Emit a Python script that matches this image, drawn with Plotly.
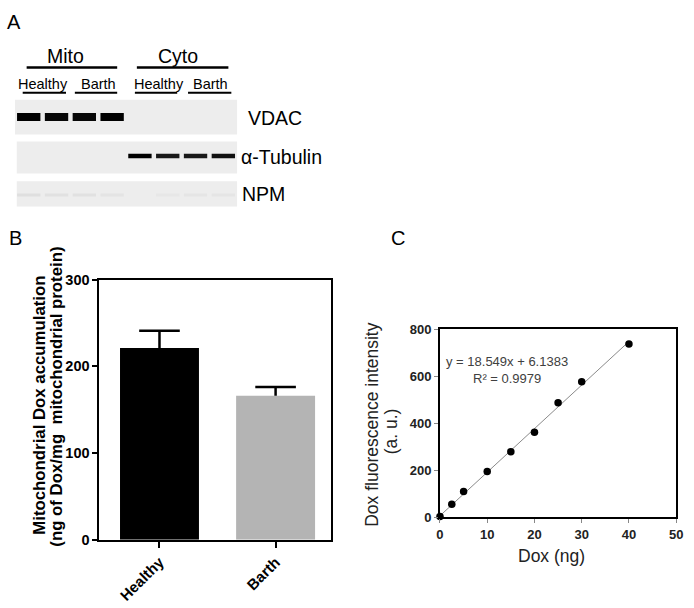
import plotly.graph_objects as go

W, H = 694, 608
FONT = "Liberation Sans, Arial, sans-serif"

# ---------------- data ----------------
# Panel A (western blot) : relative band signal per lane
lanes = [1, 2, 3, 4, 5, 6, 7, 8]
blot_rows = ["VDAC", "α-Tubulin", "NPM"]
vdac_signal = [1.0, 0.97, 0.97, 1.0, 0, 0, 0, 0]
tubulin_signal = [0, 0, 0, 0, 1.0, 0.9, 0.9, 0.93]
npm_signal = [0.06, 0.05, 0.05, 0.04, 0, 0.025, 0.035, 0.035]
fractions = ["Mito", "Cyto"]
conditions = ["Healthy", "Barth"]

# Panel B
groups = ["Healthy", "Barth"]
dox_accum = [221, 166]
dox_err = [20, 10]

# Panel C
dox_ng = [0, 2.5, 5, 10, 15, 20, 25, 30, 40]
fluor = [3, 55, 110, 195, 279, 362, 487, 577, 737]
slope, intercept = 18.549, 6.1383
r_squared = 0.9979
fit_x = [0, 40]


def px(x):
    return x / W


def py(y):
    return 1 - y / H


fig = go.Figure()

# ---------------- Panel B ----------------
fig.add_trace(go.Bar(
    x=groups, y=dox_accum, width=0.68,
    marker=dict(color=["#000000", "#b4b4b4"], line=dict(width=0)),
    error_y=dict(type="data", symmetric=False, array=dox_err,
                 arrayminus=[0, 0], color="#000000", thickness=2.5, width=0),
    xaxis="x", yaxis="y", showlegend=False, hoverinfo="skip"))
# error-bar caps (top only)
fig.add_trace(go.Scatter(
    x=groups, y=[v + e for v, e in zip(dox_accum, dox_err)], mode="markers",
    marker=dict(symbol="line-ew", size=29, line=dict(color="#000000", width=2.5)),
    xaxis="x", yaxis="y", showlegend=False, hoverinfo="skip", cliponaxis=False))

# ---------------- Panel C ----------------
fig.add_trace(go.Scatter(
    x=fit_x, y=[slope * v + intercept for v in fit_x], mode="lines",
    line=dict(color="#8a8a8a", width=1), xaxis="x2", yaxis="y2",
    showlegend=False, hoverinfo="skip"))
fig.add_trace(go.Scatter(
    x=dox_ng, y=fluor, mode="markers",
    marker=dict(color="#000000", size=7.5), xaxis="x2", yaxis="y2",
    showlegend=False, cliponaxis=False))

# ---------------- Panel A (blot) ----------------
row_signals = [vdac_signal, tubulin_signal, npm_signal]
row_thickness = [8, 4.5, 3]
box_x0 = [0.5, 0.57, 0.57]
box_y = [(-0.45, 0.45), (0.625, 1.45), (1.65, 2.3)]
shapes = []
for r in range(3):
    shapes.append(dict(type="rect", xref="x3", yref="y3", x0=box_x0[r], x1=8.5,
                       y0=box_y[r][0], y1=box_y[r][1], fillcolor="#ededed",
                       line=dict(width=0), layer="below"))
for r, sig in enumerate(row_signals):
    for lane, s in zip(lanes, sig):
        if s <= 0:
            continue
        g = int(round(237 * (1 - s)))
        fig.add_trace(go.Scatter(
            x=[lane - 0.42, lane + 0.42], y=[r, r], mode="lines",
            line=dict(color=f"rgb({g},{g},{g})", width=row_thickness[r]),
            xaxis="x3", yaxis="y3", showlegend=False, hoverinfo="skip"))

# header lines of panel A
header_lines = [(23, 115, 61), (135, 228, 61),
                (19, 63, 87), (72, 115, 87), (133, 176, 87), (187, 231, 87)]
for x0, x1, yy in header_lines:
    shapes.append(dict(type="line", xref="paper", yref="paper",
                       x0=px(x0), x1=px(x1), y0=py(yy), y1=py(yy),
                       line=dict(color="#000000", width=2.5 if yy < 70 else 2)))

annotations = []


def ann(text, x, y, size, xanchor="center", yanchor="middle", bold=False,
        angle=0, color="#000000"):
    annotations.append(dict(
        text=f"<b>{text}</b>" if bold else text, x=px(x), y=py(y),
        xref="paper", yref="paper", showarrow=False, xanchor=xanchor,
        yanchor=yanchor, textangle=angle,
        font=dict(family=FONT, size=size, color=color)))


ann("A", 10, 14, 20)
ann("B", 12, 236, 20)
ann("C", 400, 236, 20)
ann(fractions[0], 62, 49, 19.5)
ann(fractions[1], 177, 49, 19.5)
ann(conditions[0], 40, 78, 14.5)
ann(conditions[1], 96, 78, 14.5)
ann(conditions[0], 158, 78, 14.5)
ann(conditions[1], 210, 78, 14.5)
ann(blot_rows[0], 246, 113, 19.5, xanchor="left")
ann(blot_rows[1], 239, 153, 19.5, xanchor="left")
ann(blot_rows[2], 240, 191, 19.5, xanchor="left")

# Panel B titles
ann("Mitochondrial Dox accumulation", 36, 408, 16.8, bold=True, angle=-90)
ann("(ng of Dox/mg \u00a0mitochondrial protein)", 53, 399, 16.8, bold=True, angle=-90)

# Panel C titles
ann("Dox fluorescence intensity", 374, 428, 17.5, angle=-90, color="#222222")
ann("(a. u.)", 393, 435, 17.5, angle=-90, color="#222222")
ann("Dox (ng)", 556, 563, 17.5, color="#222222")
ann(f"y = {slope}x + {intercept}", 511, 363, 13, color="#404040")
ann(f"R² = {r_squared}", 511, 381, 13, color="#404040")

fig.update_layout(
    width=W, height=H, margin=dict(l=0, r=0, t=0, b=0),
    paper_bgcolor="white", plot_bgcolor="white",
    shapes=shapes, annotations=annotations, showlegend=False,
    font=dict(family=FONT),
    xaxis=dict(domain=[px(97), px(332)], range=[-0.517, 1.475], anchor="y",
               showline=True, mirror=True, linecolor="#000000", linewidth=2,
               ticks="outside", ticklen=6, tickwidth=2, tickcolor="#000000",
               tickangle=-45, showgrid=False, zeroline=False,
               tickfont=dict(family=FONT, size=15, color="#000000", weight="bold")),
    yaxis=dict(domain=[py(546), py(279)], range=[0, 300], anchor="x",
               tickvals=[0, 100, 200, 300],
               showline=True, mirror=True, linecolor="#000000", linewidth=2,
               ticks="outside", ticklen=5, tickwidth=2, tickcolor="#000000",
               showgrid=False, zeroline=False,
               tickfont=dict(family=FONT, size=14.5, color="#000000", weight="bold")),
    xaxis2=dict(domain=[px(443), px(683)], range=[0, 50], anchor="y2",
                tickvals=[0, 10, 20, 30, 40, 50],
                showline=True, mirror=True, linecolor="#000000", linewidth=2,
                ticks="outside", ticklen=4, tickwidth=1, tickcolor="#888888",
                showgrid=False, zeroline=False,
                tickfont=dict(family=FONT, size=13, color="#222222", weight="bold")),
    yaxis2=dict(domain=[py(523), py(330)], range=[0, 800], anchor="x2",
                tickvals=[0, 200, 400, 600, 800],
                showline=True, mirror=True, linecolor="#000000", linewidth=2,
                ticks="outside", ticklen=4, tickwidth=1, tickcolor="#888888",
                showgrid=False, zeroline=False,
                tickfont=dict(family=FONT, size=13, color="#222222", weight="bold")),
    xaxis3=dict(domain=[px(11), px(237)], range=[0.5, 8.5], anchor="y3",
                visible=False, fixedrange=True),
    yaxis3=dict(domain=[py(204), py(94)], range=[2.3, -0.45], anchor="x3",
                visible=False, fixedrange=True),
)

fig.write_html("out.html", config={"displayModeBar": False},
               post_script="document.body.style.margin='0px';"
                           "document.body.style.overflow='hidden';")
